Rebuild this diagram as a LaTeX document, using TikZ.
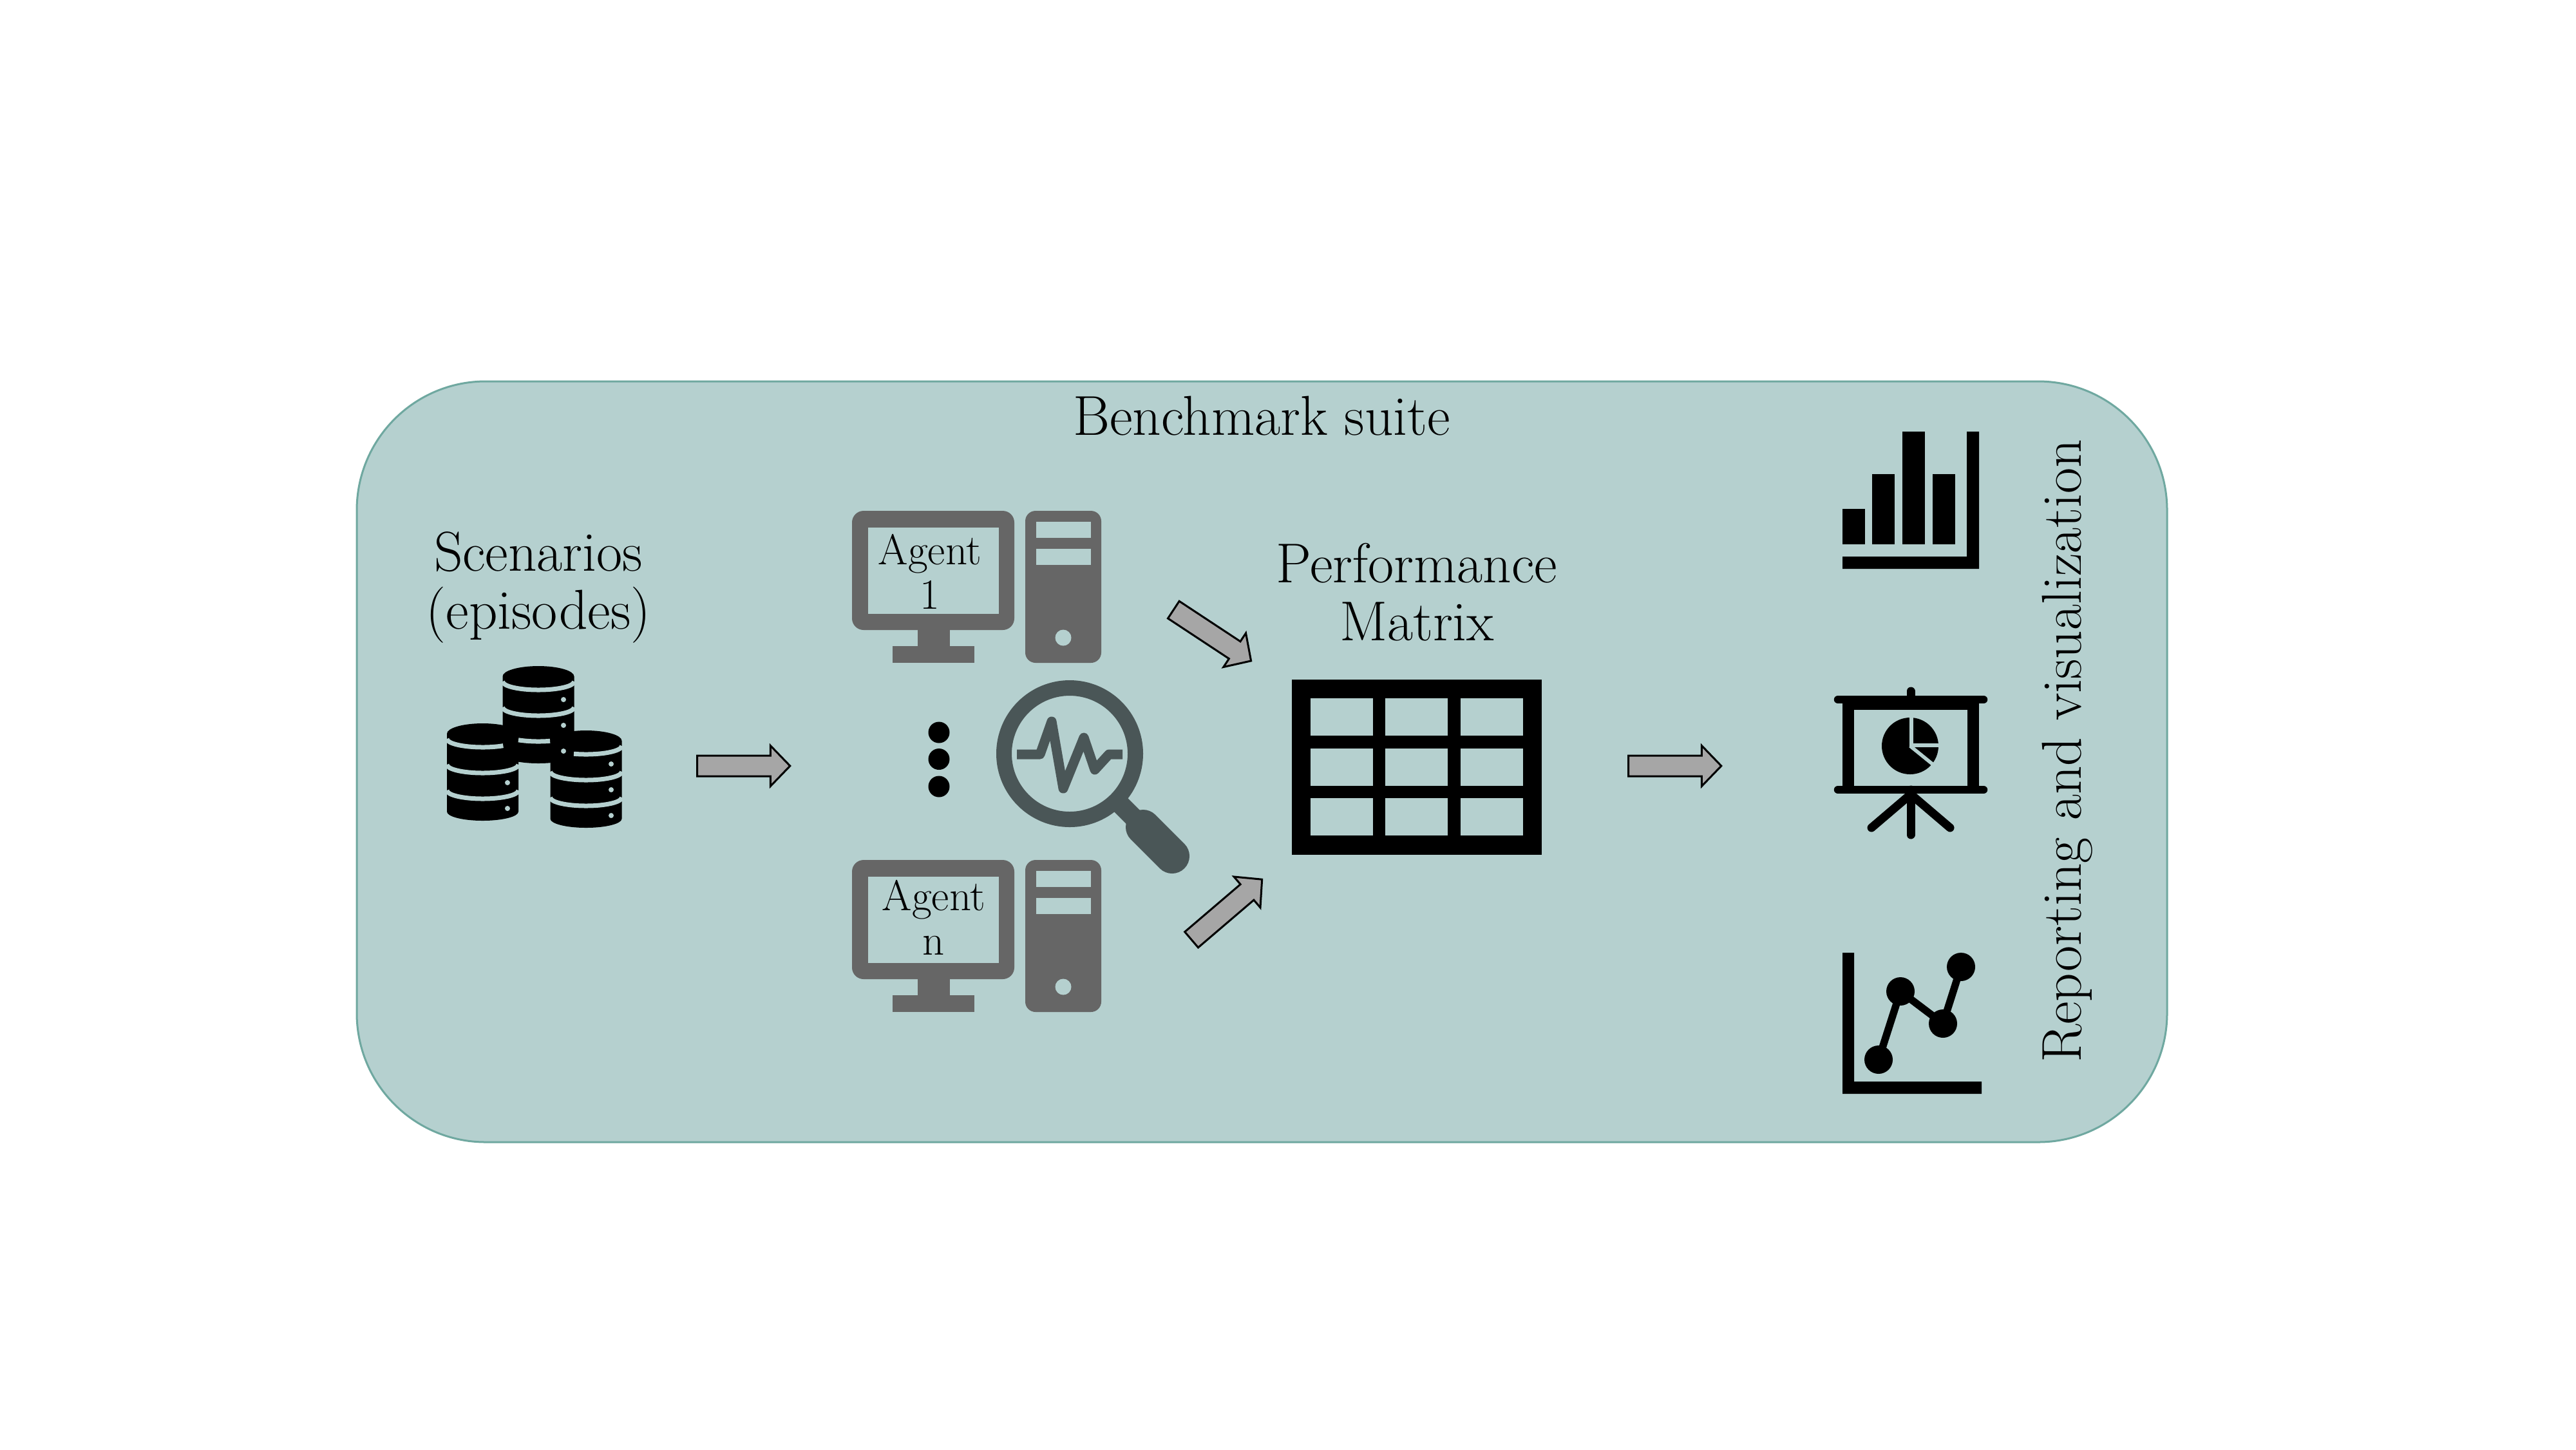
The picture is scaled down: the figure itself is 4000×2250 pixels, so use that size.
\documentclass[tikz,border=0pt]{standalone}
\usepackage{tikz}
\usetikzlibrary{shapes.arrows}
\definecolor{suitefill}{HTML}{B5D0CF}
\definecolor{suiteline}{HTML}{6FA8A0}
\definecolor{hostgray}{HTML}{666666}
\definecolor{lensgray}{HTML}{4A5657}
\definecolor{flowgray}{HTML}{A6A6A6}
\tikzset{
  bigtext/.style={inner sep=0pt,align=center,font=\fontsize{24.8}{25.5}\selectfont},
  agenttext/.style={inner sep=0pt,align=center,font=\fontsize{19}{19.6}\selectfont},
  flowarrow/.style={single arrow,draw=black,fill=flowgray,line width=0.03cm,inner sep=0.145cm,
    minimum height=1.44cm,minimum width=0.6cm,single arrow head extend=0.155cm,
    single arrow tip angle=92},
  cutline/.style={draw=suitefill,line width=0.07cm}
}
\begin{document}
\begin{tikzpicture}[x=0.01cm,y=-0.01cm]
    \useasboundingbox (0,0) rectangle (4000,2250);
    \draw[fill=suitefill,draw=suiteline,line width=0.03cm,rounded corners=2cm] (554,592) rectangle (3365,1773);
    \node[bigtext,anchor=base] (suite) at (1959,675) {Benchmark suite};
    % scenarios
    \node[bigtext] (scenarios) at (836,912) {Scenarios\\(episodes)};
    \foreach \cx/\yy in {836/1034,749.5/1123,910/1134} {
      \fill[black] (\cx-55.5,\yy+16) arc (180:360:55.5 and 16) -- (\cx+55.5,\yy+137) arc (0:180:55.5 and 14) -- cycle;
    }
    \foreach \cx/\yy/\from/\to in {836/1058/180/360,836/1098/180/360,836/1138/236/289,
        749.5/1147/180/305,749.5/1187/180/360,749.5/1227/180/360,
        910/1158/250/360,910/1198/180/360,910/1238/180/360} {
      \draw[cutline] ({\cx+55.5*cos(-\from)},{\yy+13*sin(-\from)}) arc (-\from:-\to:55.5 and 13);
    }
    \foreach \cx/\yy in {875/1086,875/1126,875/1166,788/1215,788/1255,949/1186,949/1226,949/1266} {
      \fill[suitefill] (\cx,\yy) circle (4);
    }
    \node[flowarrow] (toagents) at (1147,1189) {};
    % agents
    \foreach \yy in {0,542} {
      \fill[hostgray,rounded corners=0.18cm] (1323,793+\yy) rectangle (1575,978+\yy);
      \fill[suitefill] (1348,819+\yy) rectangle (1551,953+\yy);
      \fill[hostgray] (1425,975+\yy) rectangle (1475,1005+\yy);
      \fill[hostgray] (1386,1003+\yy) rectangle (1513,1029+\yy);
      \fill[hostgray,rounded corners=0.16cm] (1592,793+\yy) rectangle (1710,1029+\yy);
      \fill[suitefill] (1609,810+\yy) rectangle (1694,835+\yy);
      \fill[suitefill] (1609,852+\yy) rectangle (1694,877+\yy);
      \fill[suitefill] (1651,990+\yy) circle (12.5);
    }
    \node[agenttext] (agentone) at (1444,887) {Agent\\1};
    \node[agenttext] (agentn) at (1450,1424) {Agent\\n};
    \fill[black] (1458,1137) circle (16.5);
    \fill[black] (1458,1178.5) circle (16.5);
    \fill[black] (1458,1221) circle (16.5);
    % lens
    \draw[lensgray,line width=0.24cm] (1661,1170) circle (102);
    \draw[lensgray,line width=0.3cm] (1739,1248) -- (1775,1284);
    \draw[lensgray,line width=0.54cm,line cap=round] (1775,1284) -- (1820,1329);
    \draw[lensgray,line width=0.15cm,line join=round] (1579,1171) -- (1615,1171) -- (1633,1120) -- (1651,1224)
      -- (1683,1145) -- (1700,1195) -- (1722,1171) -- (1743,1171);
    \node[flowarrow,rotate=-33.4] (fromone) at (1876,982) {};
    \node[flowarrow,rotate=40.5] (fromn) at (1899,1417) {};
    % matrix
    \node[bigtext] (matrixlabel) at (2200,919) {Performance\\Matrix};
    \fill[black] (2006,1055) rectangle (2394,1327);
    \foreach \xx in {2035,2151,2268} {
      \foreach \yy in {1084,1162,1239} {
        \fill[suitefill] (\xx,\yy) rectangle (\xx+97,\yy+58);
      }
    }
    \node[flowarrow] (toreports) at (2593,1189) {};
    % bars
    \foreach \xx/\yy in {2861/790,2907/736,2954/670,3001/736} {
      \fill[black] (\xx,\yy) rectangle (\xx+35,845);
    }
    \fill[black] (3054,670) -- (3073,670) -- (3073,883) -- (2861,883) -- (2861,864) -- (3054,864) -- cycle;
    % board
    \draw[black,line width=0.13cm,line cap=round] (2967,1073) -- (2967,1085);
    \draw[black,line width=0.13cm,line cap=round] (2967,1226) -- (2967,1296);
    \draw[black,line width=0.13cm,line cap=round] (2967,1233) -- (2906,1285);
    \draw[black,line width=0.13cm,line cap=round] (2967,1233) -- (3028,1285);
    \draw[black,line width=0.125cm,line cap=round] (2854,1086) -- (3080,1086);
    \draw[black,line width=0.125cm,line cap=round] (2854,1226) -- (3080,1226);
    \fill[black] (2861,1086) rectangle (2879,1226);
    \fill[black] (3055,1086) rectangle (3073,1226);
    \fill[black] (2861,1086) rectangle (3073,1102);
    \fill[black] (2966,1158) circle (44);
    \draw[suitefill,line width=0.055cm] (2968,1110) -- (2968,1157) -- (3015,1157);
    \draw[suitefill,line width=0.055cm] (2966,1158) -- (3008,1192);
    % line chart
    \fill[black] (2861,1479) -- (2879,1479) -- (2879,1679) -- (3077,1679) -- (3077,1698) -- (2861,1698) -- cycle;
    \draw[black,line width=0.115cm] (2917,1645) -- (2951,1539) -- (3017,1589) -- (3045,1501);
    \fill[black] (2917,1645) circle (22);
    \fill[black] (2951,1539) circle (22);
    \fill[black] (3017,1589) circle (22);
    \fill[black] (3045,1501) circle (22);
    \node[bigtext,rotate=90,anchor=base] (reports) at (3231,1166) {Reporting and visualization};
  \end{tikzpicture}
\end{document}
